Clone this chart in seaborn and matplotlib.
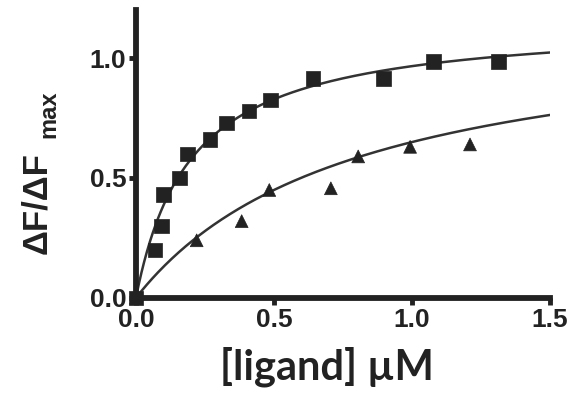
import numpy as np
import pandas as pd
import seaborn as sns
import matplotlib.pyplot as plt

# Data
square_x = [0.0, 0.069, 0.093, 0.099, 0.157, 0.186, 0.268, 0.329, 0.41, 0.488, 0.642, 0.896, 1.077, 1.313]
square_y = [0.0, 0.20, 0.30, 0.43, 0.50, 0.60, 0.66, 0.73, 0.78, 0.825, 0.915, 0.915, 0.985, 0.985]
triangle_x = [0.0, 0.22, 0.383, 0.483, 0.706, 0.805, 0.993, 1.21]
triangle_y = [0.0, 0.24, 0.32, 0.45, 0.457, 0.59, 0.63, 0.64]
# one-site binding fit parameters (Kd, Bmax)
square_fit = (0.20, 1.16)
triangle_fit = (0.80, 1.17)
x_ticks = [0.0, 0.5, 1.0, 1.5]
y_ticks = [0.0, 0.5, 1.0]

xs = np.linspace(0, 1.5, 300)
curves = []
for name, (kd, bmax) in [('square', square_fit), ('triangle', triangle_fit)]:
    curves.append(pd.DataFrame({'x': xs, 'y': bmax * xs / (kd + xs), 'series': name}))
curves = pd.concat(curves)

points = pd.concat([
    pd.DataFrame({'x': square_x, 'y': square_y, 'series': 'square'}),
    pd.DataFrame({'x': triangle_x, 'y': triangle_y, 'series': 'triangle'}),
])

sns.set_style('ticks')
plt.rcParams['font.family'] = ['Liberation Sans', 'DejaVu Sans']

fig = plt.figure(figsize=(5.76, 4.08), dpi=100)
ax = fig.add_axes([0.236, 0.27, 0.719, 0.705])

ink = '#222222'
sns.lineplot(data=curves, x='x', y='y', units='series', estimator=None,
             color='#333333', linewidth=1.8, ax=ax, legend=False)
sns.scatterplot(data=points, x='x', y='y', style='series',
                markers={'square': 's', 'triangle': '^'},
                size='series', sizes={'square': 110, 'triangle': 85},
                color=ink, edgecolor=ink, linewidth=0.5,
                ax=ax, legend=False, clip_on=False, zorder=5)

ax.set_xlim(0, 1.5)
ax.set_ylim(0, 1.2)
ax.set_xticks(x_ticks)
ax.set_yticks(y_ticks)
ax.set_xticklabels([f'{t:.1f}' for t in x_ticks], fontsize=19, fontweight='bold', color=ink)
ax.set_yticklabels([f'{t:.1f}' for t in y_ticks], fontsize=19, fontweight='bold', color=ink)
ax.tick_params(length=5, width=3.5, color=ink, pad=2)

for side in ['top', 'right']:
    ax.spines[side].set_visible(False)
for side in ['left', 'bottom']:
    ax.spines[side].set_linewidth(4.2)
    ax.spines[side].set_color(ink)

ax.set_xlabel('[ligand] µM', fontsize=30, family=['Lato', 'DejaVu Sans'],
              fontweight='bold', color=ink)
ax.xaxis.set_label_coords(0.46, -0.17)

# y label with a bold subscript
ax.set_ylabel('ΔF/ΔF', fontsize=25, fontweight='bold', color=ink)
ax.yaxis.set_label_coords(-0.2, 0.33)
fig.text(49 / 576, 1 - 114 / 408, 'max', rotation=90, ha='center', va='center',
         fontsize=17, fontweight='bold', color=ink)

fig.savefig('out.png', dpi=100)
